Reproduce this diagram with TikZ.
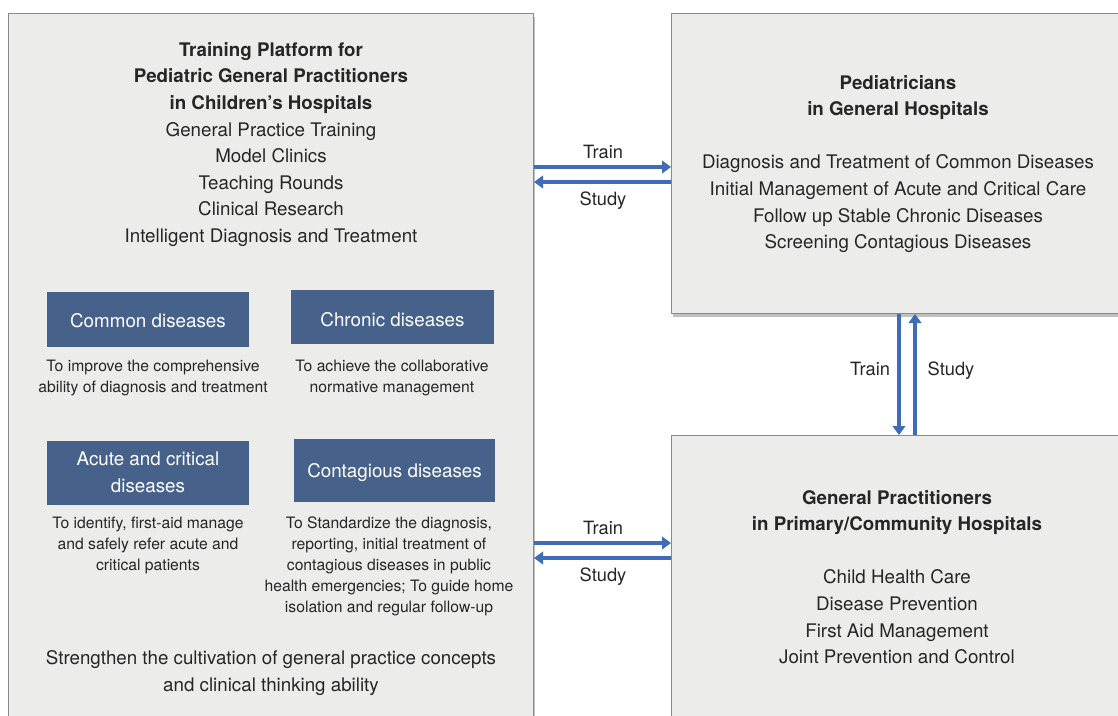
\documentclass[tikz,border=0pt]{standalone}
\usepackage{fontspec}
\setmainfont{TeX Gyre Heros}
\usetikzlibrary{arrows.meta,shadows}

\definecolor{panelfill}{RGB}{236,236,235}
\definecolor{paneledge}{RGB}{138,138,138}
\definecolor{tagblue}{RGB}{70,97,138}
\definecolor{flowblue}{RGB}{62,108,181}
\definecolor{ink}{RGB}{38,38,38}

\tikzset{
  panel/.style={draw=paneledge, line width=1pt, fill=panelfill, inner sep=0pt,
    anchor=north west,
    drop shadow={shadow xshift=1.2pt, shadow yshift=-3pt, opacity=0.35, fill=black!70}},
  tag/.style={fill=tagblue, text=white, inner sep=0pt, align=center,
    font=\fontsize{18.8}{26.6}\selectfont},
  bigtext/.style={text=ink, align=center, inner sep=0pt,
    font=\fontsize{18.75}{26.6}\selectfont},
  smalltext/.style={text=ink, align=center, inner sep=0pt,
    font=\fontsize{15.7}{21}\selectfont},
  flowlabel/.style={text=ink, inner sep=0pt, font=\fontsize{18.3}{22}\selectfont},
  flow/.style={draw=flowblue, line width=4.2pt,
    -{Triangle[width=12.5pt,length=9pt]}},
}

\begin{document}
\begin{tikzpicture}[x=1pt,y=-1pt]
\clip (0,0) rectangle (1118,715);
\fill[white] (0,0) rectangle (1118,715);

% the three panels
\node[panel, minimum width=525pt, minimum height=740pt] (platform) at (8,13) {};
\node[panel, minimum width=470pt, minimum height=300pt] (pediatric) at (671,13) {};
\node[panel, minimum width=470pt, minimum height=320pt] (primary) at (671,435) {};

% training platform text
\node[bigtext] (platformtitle) at (271,144.5) {%
  \textbf{Training Platform for}\\
  \textbf{Pediatric General Practitioners}\\
  \textbf{in Children’s Hospitals}\\
  General Practice Training\\
  Model Clinics\\
  Teaching Rounds\\
  Clinical Research\\
  Intelligent Diagnosis and Treatment};

% disease categories
\node[tag, minimum width=202pt, minimum height=55pt, text height=15pt, text depth=0pt] (common) at (148,319.5) {Common diseases};
\node[tag, minimum width=203pt, minimum height=54pt, text height=19pt, text depth=0pt] (chronic) at (392.5,317) {Chronic diseases};
\node[tag, minimum width=202pt, minimum height=64pt] (acute) at (148,472.5) {Acute and critical\\diseases};
\node[tag, minimum width=201pt, minimum height=63pt, text height=14pt, text depth=0pt] (contagious) at (394.5,470.5) {Contagious diseases};

\node[smalltext] (commondesc) at (153,378) {To improve the comprehensive\\ability of diagnosis and treatment};
\node[smalltext] (chronicdesc) at (392,378) {To achieve the collaborative\\normative management};
\node[smalltext] (acutedesc) at (148,545) {To identify, first-aid manage\\and safely refer acute and\\critical patients};
\node[smalltext] (contagiousdesc) at (389,566) {To Standardize the diagnosis,\\reporting, initial treatment of\\contagious diseases in public\\health emergencies; To guide home\\isolation and regular follow-up};

\node[bigtext] (platformgoal) at (271,673) {Strengthen the cultivation of general practice concepts\\and clinical thinking ability};

% pediatricians panel text
\node[bigtext] (pediatrictext) at (898,164) {%
  \textbf{Pediatricians}\\
  \textbf{in General Hospitals}\\[26.6pt]
  Diagnosis and Treatment of Common Diseases\\
  Initial Management of Acute and Critical Care\\
  Follow up Stable Chronic Diseases\\
  Screening Contagious Diseases};

% general practitioners panel text
\node[bigtext] (primarytext) at (897,577) {%
  \textbf{General Practitioners}\\
  \textbf{in Primary/Community Hospitals}\\[26.6pt]
  Child Health Care\\
  Disease Prevention\\
  First Aid Management\\
  Joint Prevention and Control};

% train / study flows
\coordinate (upperTrain) at (0,167);
\coordinate (upperStudy) at (0,182);
\coordinate (lowerTrain) at (0,543);
\coordinate (lowerStudy) at (0,558);
\coordinate (downLane) at (899,0);
\coordinate (upLane) at (915,0);

\draw[flow] (platform.east |- upperTrain) -- (pediatric.west |- upperTrain);
\draw[flow] (pediatric.west |- upperStudy) -- (platform.east |- upperStudy);
\draw[flow] (platform.east |- lowerTrain) -- (primary.west |- lowerTrain);
\draw[flow] (primary.west |- lowerStudy) -- (platform.east |- lowerStudy);
\draw[flow] (downLane |- pediatric.south) -- (downLane |- primary.north);
\draw[flow] (upLane |- primary.north) -- (upLane |- pediatric.south);

\node[flowlabel] (upperTrainLabel) at (603,152) {Train};
\node[flowlabel] (upperStudyLabel) at (603,201) {Study};
\node[flowlabel] (lowerTrainLabel) at (603,528) {Train};
\node[flowlabel] (lowerStudyLabel) at (603,577) {Study};
\node[flowlabel] (midTrainLabel) at (870,369) {Train};
\node[flowlabel] (midStudyLabel) at (951,371) {Study};
\end{tikzpicture}
\end{document}
